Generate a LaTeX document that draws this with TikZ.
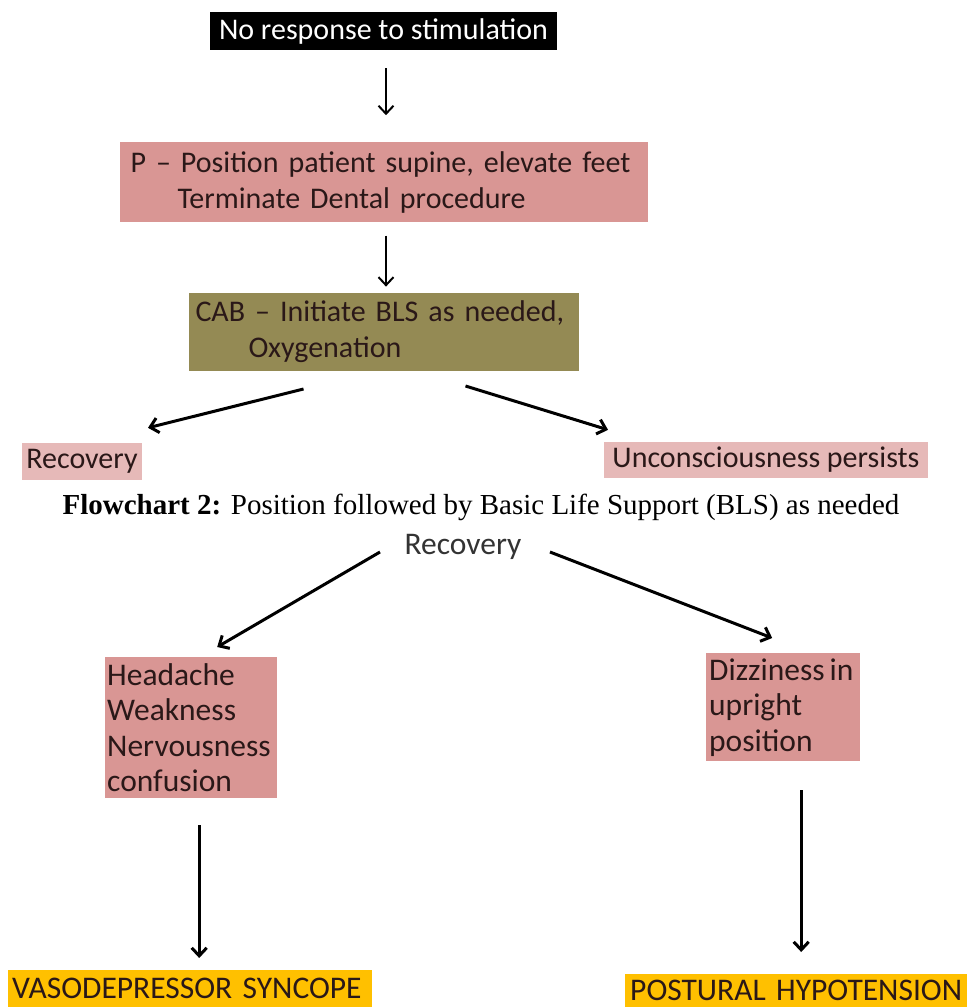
\documentclass[tikz,border=0pt]{standalone}
\usepackage{fontspec}
\setmainfont{Carlito}
\newfontfamily\capfont{Liberation Serif}
\usepackage{xcolor}
\usetikzlibrary{arrows.meta,positioning,calc}
\definecolor{fcpink}{HTML}{D99694}
\definecolor{fclight}{HTML}{E6B9B8}
\definecolor{fcolive}{HTML}{948A54}
\definecolor{fcgold}{HTML}{FFC000}
\definecolor{fctext}{HTML}{2A1818}
\tikzset{
  fcnode/.style={
    rectangle, fill=fcpink, text=fctext, inner sep=0pt,
    font=\fontsize{30}{36}\selectfont
  },
  fcbig/.style={fcnode, font=\fontsize{31.5}{35.5}\selectfont},
  fcstart/.style={fcnode, fill=black, text=white},
  fcsoft/.style={fcnode, fill=fclight},
  fccab/.style={fcnode, fill=fcolive},
  fcend/.style={fcbig, fill=fcgold},
  fcplain/.style={fcbig, fill=none, text=black!80},
  fcarrow/.style={-{Straight Barb[length=8pt,width=15pt]}, line width=2pt, draw=black},
  fcthick/.style={fcarrow, line width=3pt},
  fccaption/.style={font=\capfont\fontsize{29}{34}\selectfont, inner sep=0pt},
}

\begin{document}
\begin{tikzpicture}[x=1pt,y=-1pt]
  \useasboundingbox (0,0) rectangle (967,1007);
  \node (n1) [fcstart, minimum width=347pt, minimum height=38pt] at (383.5,31) {No response to stimulation};
  \node (n2) [fcnode, below=92pt of n1, text width=506pt, inner xsep=11pt, minimum height=80pt, align=left] {P – Position patient supine, elevate feet\\\hspace*{47pt}Terminate Dental procedure};
  \node (n3) [fccab, below=70pt of n2, text width=376pt, inner xsep=7pt, minimum height=78pt, align=left] {CAB – Initiate BLS as needed,\\\hspace*{53pt}Oxygenation};
  \node (n4) [fcsoft, minimum width=120pt, minimum height=37pt] at (82,461.5) {Recovery};
  \node (n5) [fcsoft, minimum width=324pt, minimum height=36pt] at (766,460) {Unconsciousness persists};
  \node (cap) [fccaption] at (481,507) {\textbf{Flowchart 2:} Position followed by Basic Life Support (BLS) as needed};
  \node (n6) [fcplain] at (463,547) {Recovery};
  \node (n7) [fcbig, anchor=north west, text width=168pt, inner xsep=2pt, minimum height=141pt, align=left] at (105,657) {Headache\\Weakness\\Nervousness\\confusion};
  \node (n8) [fcbig, anchor=north west, text width=148pt, inner xsep=3pt, minimum height=108pt, align=left] at (706,653) {\mbox{Dizziness\hspace{5pt}in}\\upright\\position};
  \node (n9) [fcend, anchor=north west, text width=356pt, inner xsep=4pt, minimum height=37pt, align=left] at (8,970) {VASODEPRESSOR SYNCOPE};
  \node (n10) [fcend, anchor=north west, text width=334pt, inner xsep=4pt, minimum height=33pt, align=center] at (625,974) {POSTURAL HYPOTENSION};
  \draw[fcarrow] ($(n1.south)+(2.5,18)$) -- ($(n2.north)+(2.5,-27)$);
  \draw[fcarrow] ($(n2.south)+(2.5,13)$) -- ($(n3.north)+(2.5,-6)$);
  \draw[fcthick] ($(n3.south)+(-80,18)$) -- ($(n4.north)+(66,-15)$);
  \draw[fcthick] ($(n3.south)+(82,15)$) -- ($(n5.north)+(-158,-12)$);
  \draw[fcthick] ($(n6)+(-83,5)$) -- ($(n7.north)+(26,-10)$);
  \draw[fcthick] ($(n6)+(87,5)$) -- ($(n8.north)+(-11,-15)$);
  \draw[fcthick] ($(n7.south)+(8,27)$) -- ($(n9.north)+(9,-12)$);
  \draw[fcthick] ($(n8.south)+(18,29)$) -- ($(n10.north)+(5,-22)$);
\end{tikzpicture}
\end{document}
